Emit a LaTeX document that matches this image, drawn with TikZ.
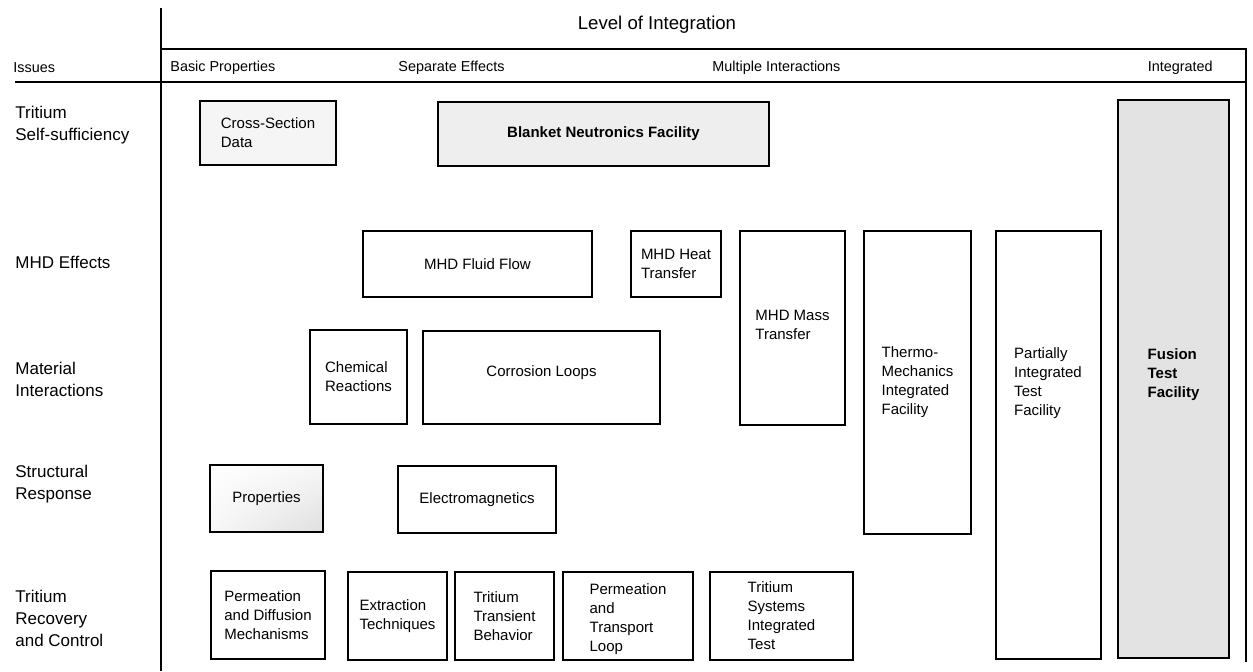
\documentclass[tikz,border=0pt]{standalone}
\usepackage{fontspec}
\setmainfont{Liberation Sans}
\usetikzlibrary{fit,shadings}

\tikzset{
  blk/.style={draw, line width=0.8pt, inner sep=0pt},
  txt/.style={inner sep=0pt, align=left, font=\fontsize{7.5}{9.5}\selectfont},
  issue/.style={anchor=west, inner sep=0pt, align=left,
                font=\fontsize{8.5}{11}\selectfont},
  level/.style={anchor=west, inner sep=0pt, font=\fontsize{7.2}{9}\selectfont},
  frame/.style={line width=0.6pt},
}

\begin{document}
\begin{tikzpicture}[x=0.5pt, y=-0.5pt]
        \useasboundingbox (0,0) rectangle (1253,671);

        % table frame
        \draw [frame] (161,8)  -- (161,671);
        \draw [frame] (161,49) -- (1246,49) -- (1246,662);
        \draw [frame] (15,82)  -- (1246,82);

        % headings
        \node [font=\fontsize{9.3}{11}\selectfont] (lvl) at (657,25) {Level of Integration};
        \node [level] (iss)   at (13,68)  {Issues};
        \node [level] (basic) at (170,68) {Basic Properties};
        \node [level] (sep)   at (398,68) {Separate Effects};
        \node [level] (mult)  at (712,68) {Multiple Interactions};
        \node [level, anchor=east] (integ) at (1213,68) {Integrated};

        % issues
        \node [issue] (tss)  at (15,125) {Tritium\\Self-sufficiency};
        \node [issue] (mhd)  at (15,262) {MHD Effects};
        \node [issue] (mat)  at (15,379) {Material\\Interactions};
        \node [issue] (str)  at (15,484) {Structural\\Response};
        \node [issue] (trc)  at (15,618) {Tritium\\Recovery\\and Control};

        % boxes
        \node [blk, fill=gray!8,  fit={(200,101) (336,165)}] (xsec) {};
        \node [blk, fill=gray!13, fit={(438,102) (769,166)}] (blanket) {};
        \node [blk, fit={(363,231) (592,297)}] (fluid) {};
        \node [blk, fit={(631,231) (721,297)}] (heat)  {};
        \node [blk, fit={(740,231) (845,425)}] (mass)  {};
        \node [blk, fit={(310,330) (407,424)}] (chem)  {};
        \node [blk, fit={(423,331) (660,424)}] (corr)  {};
        \node [blk, upper left=white, upper right=gray!6, lower left=gray!6,
               lower right=gray!25, fit={(210,465) (323,532)}] (prop) {};
        \node [blk, fit={(398,466) (556,533)}] (emag)  {};
        \node [blk, fit={(211,571) (325,659)}] (permd) {};
        \node [blk, fit={(348,572) (447,660)}] (extr)  {};
        \node [blk, fit={(455,572) (554,660)}] (trans) {};
        \node [blk, fit={(563,572) (693,660)}] (ploop) {};
        \node [blk, fit={(710,572) (853,660)}] (tsit)  {};
        \node [blk, fit={(864,231) (971,534)}] (thermo) {};
        \node [blk, fit={(996,231) (1101,659)}] (pitf) {};
        \node [blk, fill=gray!22, fit={(1118,100) (1229,658)}] (fusion) {};

        % box texts
        \node [txt] (xsect)    at (xsec)    {Cross-Section\\Data};
        \node [txt, font=\fontsize{7.5}{9.5}\selectfont\bfseries] (blankett) at (blanket) {Blanket Neutronics Facility};
        \node [txt] (fluidt)   at (fluid)   {MHD Fluid Flow};
        \node [txt] (heatt)    at (heat)    {MHD Heat\\Transfer};
        \node [txt] (masst)    at ([yshift=1.5]mass.center) {MHD Mass\\Transfer};
        \node [txt] (chemt)    at (chem)    {Chemical\\Reactions};
        \node [txt] (corrt)    at ([yshift=2.5]corr.center) {Corrosion Loops};
        \node [txt] (propt)    at (prop)    {Properties};
        \node [txt] (emagt)    at (emag)    {Electromagnetics};
        \node [txt] (permdt)   at (permd)   {Permeation\\and Diffusion\\Mechanisms};
        \node [txt] (extrt)    at (extr)    {Extraction\\Techniques};
        \node [txt] (transt)   at (trans)   {Tritium\\Transient\\Behavior};
        \node [txt] (ploopt)   at ([yshift=-1.5]ploop.center) {Permeation\\and\\Transport\\Loop};
        \node [txt] (tsitt)    at (tsit)    {Tritium\\Systems\\Integrated\\Test};
        \node [txt] (thermot)  at (thermo)  {Thermo-\\Mechanics\\Integrated\\Facility};
        \node [txt] (pitft)    at (1048,383) {Partially\\Integrated\\Test\\Facility};
        \node [txt, font=\fontsize{7.5}{9.5}\selectfont\bfseries] (fusiont) at ([yshift=2]fusion.center) {Fusion\\Test\\Facility};
\end{tikzpicture}
\end{document}
